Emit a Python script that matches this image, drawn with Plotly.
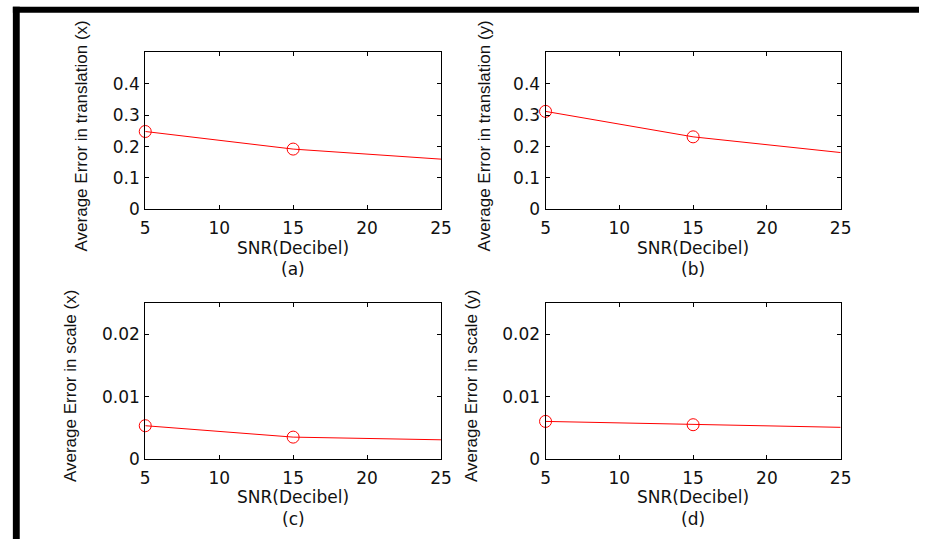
import plotly.graph_objects as go

# Signal-to-noise ratio levels (dB)
snr_db = [5, 15, 25]
# Levels that carry a circle marker
marked_snr_db = [5, 15]

# Average error per SNR level
err_translation_x = [0.248, 0.192, 0.160]
err_translation_y = [0.312, 0.231, 0.181]
err_scale_x = [0.00537, 0.00354, 0.00311]
err_scale_y = [0.00606, 0.00553, 0.00511]

x_ticks = [5, 10, 15, 20, 25]
trans_ticks = [0, 0.1, 0.2, 0.3, 0.4]
trans_tick_text = ["0", "0.1", "0.2", "0.3", "0.4"]
scale_ticks = [0, 0.01, 0.02]
scale_tick_text = ["0", "0.01", "0.02"]

W, H = 930, 549
WIDE_FONT = "DejaVu Sans, Verdana, sans-serif"
TITLE_FONT = "Liberation Sans, Arial, sans-serif"
RED = "#ff0000"

panels = [
    # series, y title, panel tag, y range, ticks, tick text, pixel box (left, right, top, bottom), y-title x
    (err_translation_x, "Average Error in translation (x)", "(a)", [0, 0.5],
     trans_ticks, trans_tick_text, (142.7, 443.7, 53.3, 213.3), 78),
    (err_translation_y, "Average Error in translation (y)", "(b)", [0, 0.5],
     trans_ticks, trans_tick_text, (550.0, 850.3, 53.3, 213.3), 488),
    (err_scale_x, "Average Error in scale (x)", "(c)", [0, 0.025],
     scale_ticks, scale_tick_text, (142.7, 443.7, 309.0, 467.7), 66),
    (err_scale_y, "Average Error in scale (y)", "(d)", [0, 0.025],
     scale_ticks, scale_tick_text, (550.0, 850.3, 309.0, 467.7), 474),
]

fig = go.Figure()
annotations = []
layout_axes = {}

for i, (vals, ytitle, tag, yrange, yticks, yticktext, box, ytitle_x) in enumerate(panels, start=1):
    left, right, top, bottom = box
    xa = "x" if i == 1 else f"x{i}"
    ya = "y" if i == 1 else f"y{i}"
    # the error curve
    fig.add_trace(go.Scatter(
        x=snr_db, y=vals, xaxis=xa, yaxis=ya, mode="lines",
        line=dict(color=RED, width=1), showlegend=False,
    ))
    # open circles at the marked levels
    marked_vals = [v for s, v in zip(snr_db, vals) if s in marked_snr_db]
    fig.add_trace(go.Scatter(
        x=marked_snr_db, y=marked_vals, xaxis=xa, yaxis=ya, mode="markers",
        marker=dict(symbol="circle-open", size=12, color=RED, line=dict(width=1, color=RED)),
        cliponaxis=False, showlegend=False,
    ))
    axis_common = dict(
        showline=True, linecolor="black", linewidth=1, mirror="ticks",
        ticks="inside", ticklen=4, tickcolor="black", showgrid=False, zeroline=False,
        tickfont=dict(family=WIDE_FONT, size=17, color="#111111"),
    )
    layout_axes["xaxis" if i == 1 else f"xaxis{i}"] = dict(
        axis_common, domain=[left / W, right / W], range=[5, 25],
        tickvals=x_ticks, ticktext=[str(t) for t in x_ticks],
        anchor=ya, ticklabelstandoff=3,
    )
    layout_axes["yaxis" if i == 1 else f"yaxis{i}"] = dict(
        axis_common, domain=[1 - bottom / H, 1 - top / H], range=yrange,
        tickvals=yticks, ticktext=yticktext, anchor=xa, ticklabelstandoff=1,
    )
    cx = (left + right) / 2
    annotations.append(dict(
        text="SNR(Decibel)", x=cx / W, y=1 - (bottom + 39) / H, xref="paper", yref="paper",
        showarrow=False, xanchor="center", yanchor="middle",
        font=dict(family=WIDE_FONT, size=17, color="#111111"),
    ))
    annotations.append(dict(
        text=tag, x=cx / W, y=1 - (bottom + 61) / H, xref="paper", yref="paper",
        showarrow=False, xanchor="center", yanchor="middle",
        font=dict(family=WIDE_FONT, size=17, color="#111111"),
    ))
    annotations.append(dict(
        text=ytitle, x=ytitle_x / W, y=1 - ((top + bottom) / 2 + 5) / H, xref="paper", yref="paper",
        showarrow=False, xanchor="center", yanchor="middle", textangle=-90,
        font=dict(family=TITLE_FONT, size=17, color="#111111"),
    ))

# Heavy frame along the top and left edges
shapes = [
    dict(type="rect", xref="paper", yref="paper", x0=8 / W, x1=1, y0=1 - 13 / H, y1=1 - 7 / H,
         fillcolor="black", line=dict(width=0)),
    dict(type="rect", xref="paper", yref="paper", x0=8 / W, x1=15 / W, y0=0, y1=1 - 7 / H,
         fillcolor="black", line=dict(width=0)),
]

fig.update_layout(
    width=W, height=H, margin=dict(l=0, r=0, t=0, b=0),
    paper_bgcolor="white", plot_bgcolor="white",
    annotations=annotations, shapes=shapes, **layout_axes,
)

fig.write_html("out.html")
